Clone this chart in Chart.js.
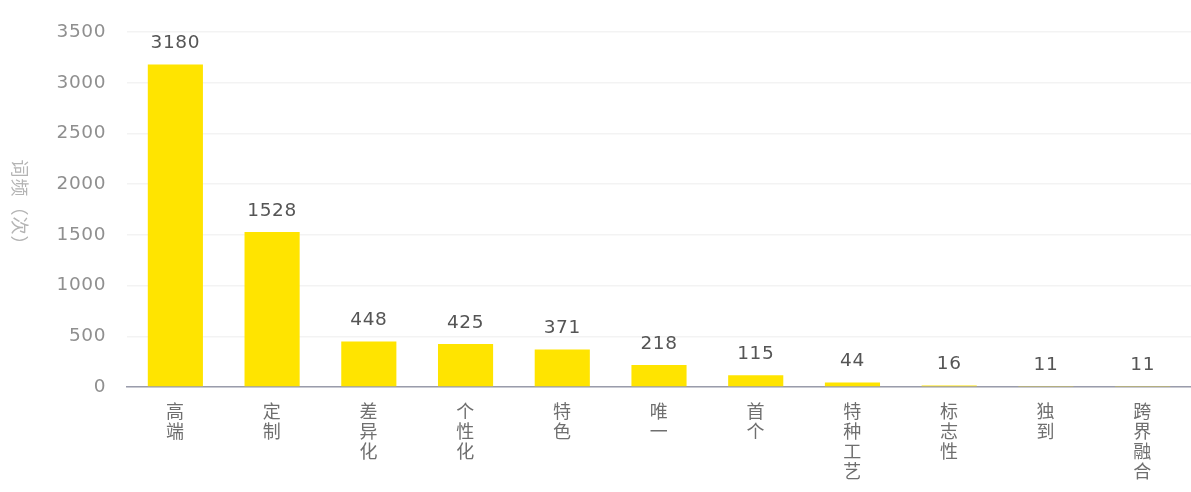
<!DOCTYPE html>
<html>
<head>
<meta charset="utf-8">
<script src="https://cdn.jsdelivr.net/npm/chart.js@4.4.0/dist/chart.umd.min.js"></script>
<style>
  html, body { margin: 0; padding: 0; background: #fff; }
  #wrap { width: 1191px; height: 492px; }
</style>
</head>
<body>
<div id="wrap"><canvas id="wordChart"></canvas></div>
<script>
const categories = ['高端', '定制', '差异化', '个性化', '特色', '唯一', '首个', '特种工艺', '标志性', '独到', '跨界融合'];
const counts = [3180, 1528, 448, 425, 371, 218, 115, 44, 16, 11, 11];
const yTicks = [0, 500, 1000, 1500, 2000, 2500, 3000, 3500];
const yTitle = '词频（次）';

const numFont = '"DejaVu Sans", "Noto Sans CJK SC", sans-serif';

// a little extra spacing for all canvas text
const spacing = {
  id: 'spacing',
  beforeDraw(chart) { chart.ctx.letterSpacing = '0.6px'; }
};

// value above each bar
const valueLabels = {
  id: 'valueLabels',
  afterDatasetsDraw(chart) {
    const ctx = chart.ctx;
    const meta = chart.getDatasetMeta(0);
    ctx.save();
    ctx.font = '18.5px ' + numFont;
    ctx.fillStyle = '#555';
    ctx.textAlign = 'center';
    ctx.textBaseline = 'middle';
    meta.data.forEach((bar, i) => {
      ctx.fillText(String(counts[i]), bar.x, bar.y - 21);
    });
    ctx.restore();
  }
};

// y axis name, reading top to bottom
const axisName = {
  id: 'axisName',
  afterDraw(chart) {
    const ctx = chart.ctx;
    ctx.save();
    ctx.translate(20, 207);
    ctx.rotate(Math.PI / 2);
    ctx.letterSpacing = '1px';
    ctx.font = '18px "Noto Sans CJK SC", sans-serif';
    ctx.fillStyle = '#b4b4b4';
    ctx.textAlign = 'center';
    ctx.textBaseline = 'middle';
    ctx.fillText(yTitle, 0, 0);
    ctx.restore();
  }
};

new Chart(document.getElementById('wordChart'), {
  type: 'bar',
  data: {
    labels: categories.map(c => c.split('')),
    datasets: [{
      data: counts,
      backgroundColor: '#ffe400',
      borderWidth: 0,
      barPercentage: 0.57,
      categoryPercentage: 1
    }]
  },
  options: {
    responsive: true,
    maintainAspectRatio: false,
    animation: false,
    layout: { padding: { top: 18, right: 0, left: 0, bottom: 0 } },
    plugins: {
      legend: { display: false },
      tooltip: { enabled: false }
    },
    scales: {
      x: {
        grid: { display: false, drawTicks: false },
        border: { color: '#9a9cab', width: 1.5 },
        ticks: {
          color: '#6f6f6f',
          font: { size: 18, family: '"Noto Sans CJK SC", sans-serif', lineHeight: 1.12 },
          padding: 14,
          maxRotation: 0,
          autoSkip: false
        },
        afterFit(scale) { scale.height = 105; }
      },
      y: {
        min: 0,
        max: 3500,
        afterBuildTicks(scale) { scale.ticks = yTicks.map(v => ({ value: v })); },
        grid: { color: '#f3f3f3', lineWidth: 1.5, drawTicks: false },
        border: { display: false },
        ticks: {
          color: '#8f8f8f',
          font: { size: 18.5, family: numFont },
          padding: 21,
          callback: v => String(v)
        },
        afterFit(scale) { scale.width = 127; }
      }
    }
  },
  plugins: [spacing, valueLabels, axisName]
});
</script>
</body>
</html>
